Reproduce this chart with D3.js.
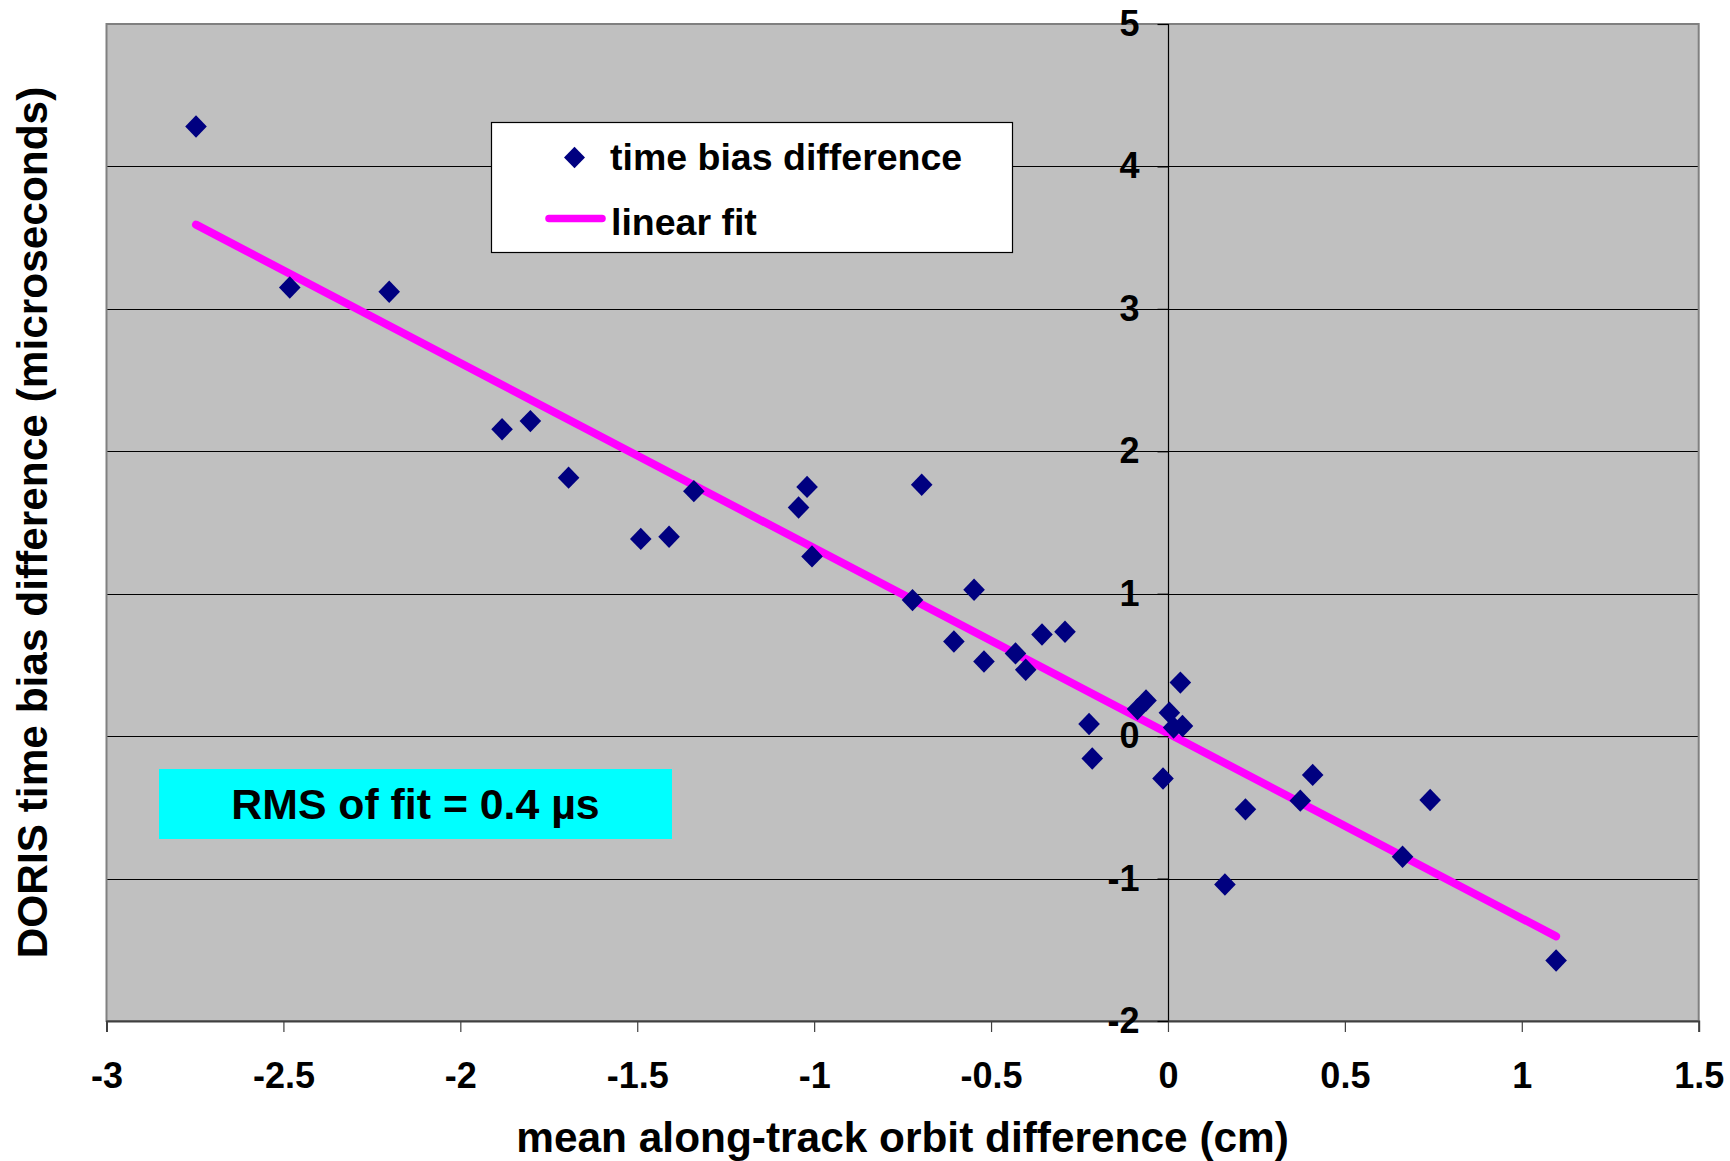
<!DOCTYPE html>
<html>
<head>
<meta charset="utf-8">
<script src="https://cdn.jsdelivr.net/npm/d3@7"></script>
<style>
  body { margin: 0; background: #ffffff; }
  svg { display: block; }
  text { font-family: "Liberation Sans", Arial, Helvetica, sans-serif; font-weight: bold; fill: #000; }
</style>
</head>
<body>
<svg id="chart" width="1730" height="1161"></svg>
<script>
// Mean along-track orbit difference (cm) for each arc
const alongTrack = [
  -2.747, -2.482, -2.201, -1.882, -1.802, -1.694, -1.490, -1.410, -1.340,
  -1.044, -1.020, -1.006, -0.722, -0.696, -0.605, -0.548, -0.520, -0.431,
  -0.402, -0.356, -0.291, -0.223, -0.214, -0.086, -0.062, -0.014, 0.004,
  0.016, 0.035, 0.041, 0.161, 0.219, 0.374, 0.409, 0.663, 0.741, 1.097
];
// DORIS time bias difference (microseconds) for the same arcs
const timeBias = [
  4.280, 3.150, 3.120, 2.155, 2.212, 1.815, 1.385, 1.400, 1.720,
  1.605, 1.750, 1.262, 0.955, 1.765, 0.665, 1.028, 0.524, 0.581,
  0.466, 0.714, 0.733, 0.085, -0.157, 0.190, 0.250, -0.297, 0.165,
  0.061, 0.376, 0.071, -1.042, -0.514, -0.453, -0.272, -0.847, -0.448, -1.575
];
// Linear fit coefficients: bias = slope * orbit + intercept
const fitSlope = -1.30;
const fitIntercept = 0.02;

const xTickValues = [-3, -2.5, -2, -1.5, -1, -0.5, 0, 0.5, 1, 1.5];
const yTickValues = [-2, -1, 0, 1, 2, 3, 4, 5];
const seriesNames = ["time bias difference", "linear fit"];
const xTitle = "mean along-track orbit difference (cm)";
const yTitle = "DORIS time bias difference (microseconds)";
const rmsNote = "RMS of fit = 0.4 \u00b5s";

const svg = d3.select("#chart");
const plot = { left: 106.5, right: 1698.7, top: 24, bottom: 1021 };

const x = d3.scaleLinear().domain([-3, 1.5]).range([plot.left, plot.right]);
const y = d3.scaleLinear().domain([-2, 5]).range([plot.bottom, plot.top]);

const diamond = (hw, hh) => `M0,${-hh}L${hw},0L0,${hh}L${-hw},0Z`;

// plot background
svg.append("rect")
  .attr("x", plot.left).attr("y", plot.top)
  .attr("width", plot.right - plot.left).attr("height", plot.bottom - plot.top)
  .attr("fill", "#c0c0c0");

// horizontal gridlines
svg.append("g").selectAll("line")
  .data(yTickValues.filter(v => v > -2 && v < 5))
  .join("line")
  .attr("x1", plot.left).attr("x2", plot.right)
  .attr("y1", d => Math.round(y(d)) + 0.5).attr("y2", d => Math.round(y(d)) + 0.5)
  .attr("stroke", "#000").attr("stroke-width", 1.2);

// plot frame
svg.append("rect")
  .attr("x", plot.left).attr("y", plot.top)
  .attr("width", plot.right - plot.left).attr("height", plot.bottom - plot.top)
  .attr("fill", "none").attr("stroke", "#808080").attr("stroke-width", 2);

// vertical axis crossing at x = 0
svg.append("line")
  .attr("x1", Math.round(x(0)) + 0.5).attr("x2", Math.round(x(0)) + 0.5)
  .attr("y1", plot.top).attr("y2", plot.bottom)
  .attr("stroke", "#000").attr("stroke-width", 1.2);

// linear fit across the data range
const xExt = d3.extent(alongTrack);
const fitPoints = xExt.map(v => [v, fitSlope * v + fitIntercept]);
svg.append("path")
  .attr("d", d3.line().x(d => x(d[0])).y(d => y(d[1]))(fitPoints))
  .attr("fill", "none").attr("stroke", "#ff00ff")
  .attr("stroke-width", 8).attr("stroke-linecap", "round");

// data points
svg.append("g").selectAll("path")
  .data(alongTrack.map((v, i) => [v, timeBias[i]]))
  .join("path")
  .attr("transform", d => `translate(${x(d[0])},${y(d[1])})`)
  .attr("d", diamond(10.8, 11.2))
  .attr("fill", "#000080");

// bottom axis
const xAxis = svg.append("g")
  .attr("transform", `translate(0,${plot.bottom})`)
  .call(d3.axisBottom(x).tickValues(xTickValues).tickFormat(d => String(d)).tickSize(11).tickPadding(30));
xAxis.select(".domain").attr("stroke", "#404040").attr("stroke-width", 2);
xAxis.selectAll(".tick line").attr("stroke", "#404040").attr("stroke-width", 1.2);
xAxis.selectAll(".tick text")
  .attr("font-size", 36).attr("fill", "#000");

// left axis placed on x = 0
const yAxis = svg.append("g")
  .attr("transform", `translate(${Math.round(x(0)) + 0.5},0)`)
  .call(d3.axisLeft(y).tickValues(yTickValues).tickFormat(d => String(d)).tickSize(11).tickPadding(18));
yAxis.select(".domain").remove();
yAxis.selectAll(".tick line").attr("stroke", "#000").attr("stroke-width", 1.2);
yAxis.selectAll(".tick text")
  .attr("font-size", 36).attr("fill", "#000");
xAxis.attr("font-family", null);
yAxis.attr("font-family", null);

// axis titles
svg.append("text")
  .attr("x", (plot.left + plot.right) / 2).attr("y", 1152)
  .attr("text-anchor", "middle").attr("font-size", 42.4)
  .text(xTitle);
svg.append("text")
  .attr("transform", `translate(47,${(plot.top + plot.bottom) / 2}) rotate(-90)`)
  .attr("text-anchor", "middle").attr("font-size", 42.4)
  .text(yTitle);

// legend
const legend = svg.append("g");
legend.append("rect")
  .attr("x", 491.5).attr("y", 122.5).attr("width", 521).attr("height", 130)
  .attr("fill", "#fff").attr("stroke", "#000").attr("stroke-width", 1.2);
legend.append("path")
  .attr("transform", "translate(574.5,157.5)")
  .attr("d", diamond(10.5, 10.8)).attr("fill", "#000080");
legend.append("text")
  .attr("x", 610).attr("y", 170).attr("font-size", 37.5).text(seriesNames[0]);
legend.append("line")
  .attr("x1", 549).attr("x2", 602).attr("y1", 218.5).attr("y2", 218.5)
  .attr("stroke", "#ff00ff").attr("stroke-width", 7.5).attr("stroke-linecap", "round");
legend.append("text")
  .attr("x", 611).attr("y", 235).attr("font-size", 37.5).text(seriesNames[1]);

// RMS annotation
svg.append("rect")
  .attr("x", 159).attr("y", 769).attr("width", 513).attr("height", 70)
  .attr("fill", "#00ffff");
svg.append("text")
  .attr("x", (159 + 672) / 2).attr("y", 819).attr("text-anchor", "middle")
  .attr("font-size", 42.8).text(rmsNote);
</script>
</body>
</html>
